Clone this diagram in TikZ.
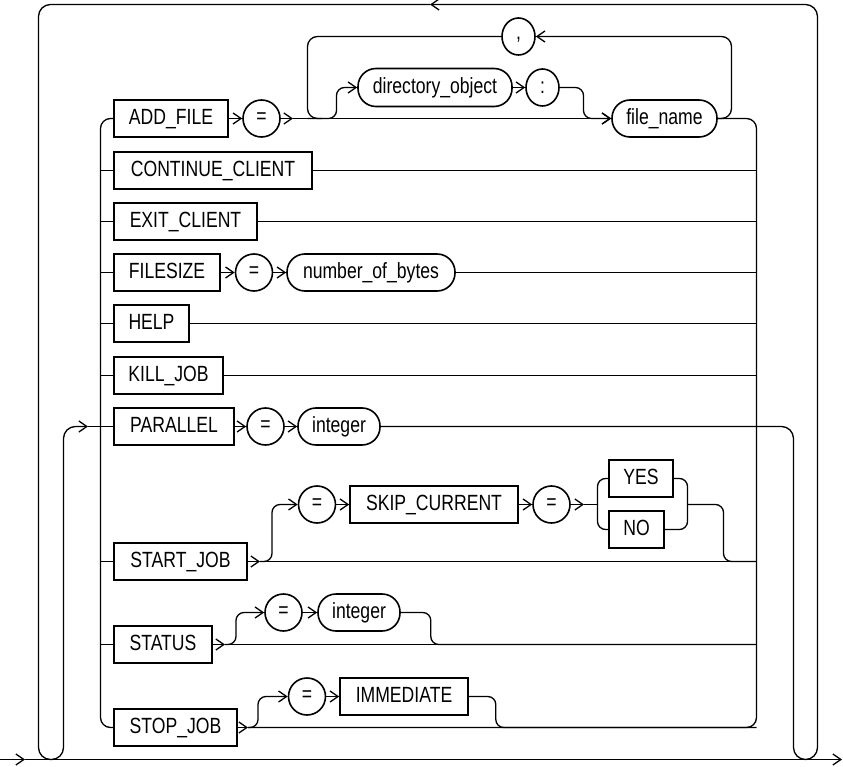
\documentclass[tikz,border=0pt]{standalone}
\usepackage{fontspec}
\setmainfont{Liberation Sans}[FakeStretch=0.8]
\usetikzlibrary{arrows.meta,shapes.geometric}
\newcommand{\railfont}{\fontsize{22}{24}\selectfont}
\tikzset{
  kw/.style={draw, rectangle, line width=1.6pt, minimum height=37pt, inner sep=2pt,
    text height=15.8pt, text depth=4.6pt, font=\railfont},
  var/.style={kw, rounded corners=18pt},
  sym/.style={draw, ellipse, line width=1.6pt, minimum height=37pt, minimum width=37pt,
    inner sep=0pt, font=\railfont},
  rail/.style={line width=1.3pt},
}
\begin{document}
\begin{tikzpicture}[x=1pt, y=-1pt, >={Straight Barb[length=8pt,width=11pt]}, rail]
  \useasboundingbox (0,0) rectangle (843,767);

  % the choices
  \node[kw, minimum width=114pt] (addfile) at (171,118.5) {ADD\_FILE};
  \node[sym] (eqA) at (261.5,118.5) {=};
  \node[var, minimum width=154pt, minimum height=38pt] (dirobj) at (435,87.5) {directory\_object};
  \node[sym, minimum width=33pt] (colon) at (542.5,87.5) {:};
  \node[var, minimum width=105pt] (filename) at (664.5,118.5) {file\_name};
  \node[sym, minimum width=33pt, text height=6pt, text depth=0pt] (comma) at (518.5,36.5) {,};
  \node[kw, minimum width=198pt] (contc) at (213,170.5) {CONTINUE\_CLIENT};
  \node[kw, minimum width=143pt] (exitc) at (185.5,221.5) {EXIT\_CLIENT};
  \node[kw, minimum width=106pt] (fsize) at (167,272.5) {FILESIZE};
  \node[sym] (eqF) at (254,272.5) {=};
  \node[var, minimum width=168pt] (nbytes) at (371,272.5) {number\_of\_bytes};
  \node[kw, minimum width=75pt] (help) at (151.5,323.5) {HELP};
  \node[kw, minimum width=109pt] (killjob) at (168.5,375.5) {KILL\_JOB};
  \node[kw, minimum width=120pt] (parallel) at (174,426.5) {PARALLEL};
  \node[sym] (eqP) at (265.5,426.5) {=};
  \node[var, minimum width=82pt] (intP) at (339,426.5) {integer};
  \node[kw, minimum width=133pt] (startjob) at (180.5,561.5) {START\_JOB};
  \node[sym] (eqS) at (317,504.5) {=};
  \node[kw, minimum width=168pt] (skipc) at (434,504.5) {SKIP\_CURRENT};
  \node[sym] (eqS2) at (551.5,504.5) {=};
  \node[kw, minimum width=64pt] (yes) at (641,478.5) {YES};
  \node[kw, minimum width=55pt] (no) at (636.5,529.5) {NO};
  \node[kw, minimum width=98pt] (status) at (163,644.5) {STATUS};
  \node[sym] (eqT) at (283.5,612.5) {=};
  \node[var, minimum width=82pt] (intT) at (359,612.5) {integer};
  \node[kw, minimum width=123pt] (stopjob) at (175.5,727.5) {STOP\_JOB};
  \node[sym] (eqJ) at (307,696.5) {=};
  \node[kw, minimum width=128pt] (immed) at (404,696.5) {IMMEDIATE};

  % junctions
  \coordinate (lt) at (100.5,118.5);
  \coordinate (lb) at (100.5,727.5);
  \coordinate (rt) at (756.5,118.5);
  \coordinate (rb) at (756.5,727.5);
  \coordinate (af1) at (293,118.5);
  \coordinate (lp) at (307.5,118.5);
  \coordinate (st1) at (260,561.5);
  \coordinate (sk1) at (584,504.5);
  \coordinate (yl) at (597.5,504.5);
  \coordinate (yr) at (687.5,504.5);
  \coordinate (stt1) at (225,644.5);
  \coordinate (sj1) at (248,727.5);
  \coordinate (start) at (0,759.5);
  \coordinate (mainar) at (25,759.5);
  \coordinate (end) at (842,759.5);
  \coordinate (toparrow) at (430,4.5);
  \coordinate (enar) at (88,426.5);

  % main line and outer loop
  \draw[->] (start) -- (mainar);
  \draw[->] (mainar) -- (end);
  \draw[->, rounded corners=12pt] (intP.east) -- (793.5,426.5) -- (793.5,759.5) -- (817.5,759.5) -- (817.5,4.5) -- (toparrow);
  \draw[->, rounded corners=12pt] (toparrow) -- (38.5,4.5) -- (38.5,759.5) -- (63.5,759.5) -- (63.5,426.5) -- (enar);
  \draw (enar) -- (parallel.west);

  % side bars
  \draw[rounded corners=10pt] (addfile.west) -- (lt) -- (lb) -- (stopjob.west);
  \draw[rounded corners=10pt] (filename.east) -- (rt) -- (rb) -- (sj1);

  % ADD_FILE
  \draw[->] (addfile.east) -- (eqA.west);
  \draw[->] (eqA.east) -- (af1);
  \draw[->] (af1) -- (filename.west);
  \draw[->, rounded corners=8pt] (lp) -- (336.5,118.5) |- (dirobj.west);
  \draw[->] (dirobj.east) -- (colon.west);
  \draw[->, rounded corners=8pt] (colon.east) -- (583.5,87.5) |- (filename.west);
  \draw[->, rounded corners=10pt] (filename.east) -- (731.5,118.5) |- (comma.east);
  \draw[rounded corners=10pt] (comma.west) -| (lp) -- ++(14,0);

  % CONTINUE_CLIENT, EXIT_CLIENT
  \draw (contc.west -| lt) -- (contc.west);
  \draw (contc.east) -- (contc.east -| rt);
  \draw (exitc.west -| lt) -- (exitc.west);
  \draw (exitc.east) -- (exitc.east -| rt);

  % FILESIZE
  \draw (fsize.west -| lt) -- (fsize.west);
  \draw[->] (fsize.east) -- (eqF.west);
  \draw[->] (eqF.east) -- (nbytes.west);
  \draw (nbytes.east) -- (nbytes.east -| rt);

  % HELP, KILL_JOB
  \draw (help.west -| lt) -- (help.west);
  \draw (help.east) -- (help.east -| rt);
  \draw (killjob.west -| lt) -- (killjob.west);
  \draw (killjob.east) -- (killjob.east -| rt);

  % PARALLEL
  \draw[->] (parallel.east) -- (eqP.west);
  \draw[->] (eqP.east) -- (intP.west);

  % START_JOB
  \draw (startjob.west -| lt) -- (startjob.west);
  \draw[->] (startjob.east) -- (st1);
  \draw (st1) -- (startjob.east -| rt);
  \draw[->, rounded corners=8pt] (st1) -- ++(12,0) |- (eqS.west);
  \draw[->] (eqS.east) -- (skipc.west);
  \draw[->] (skipc.east) -- (eqS2.west);
  \draw[->] (eqS2.east) -- (sk1);
  \draw (sk1) -- (yl);
  \draw[rounded corners=8pt] (yes.west) -| (yl) |- (no.west);
  \draw[rounded corners=8pt] (yes.east) -| (yr) |- (no.east);
  \draw[rounded corners=8pt] (yr) -- ++(36,0) |- (startjob.east -| rt);

  % STATUS
  \draw (status.west -| lt) -- (status.west);
  \draw[->] (status.east) -- (stt1);
  \draw (stt1) -- (status.east -| rt);
  \draw[->, rounded corners=8pt] (stt1) -- ++(11,0) |- (eqT.west);
  \draw[->] (eqT.east) -- (intT.west);
  \draw[rounded corners=8pt] (intT.east) -- ++(30,0) |- (status.east -| rt);

  % STOP_JOB
  \draw[->] (stopjob.east) -- (sj1);
  \draw[->, rounded corners=8pt] (sj1) -- ++(10,0) |- (eqJ.west);
  \draw[->] (eqJ.east) -- (immed.west);
  \draw[rounded corners=8pt] (immed.east) -- ++(27,0) |- (sj1 -| rb);
\end{tikzpicture}
\end{document}
